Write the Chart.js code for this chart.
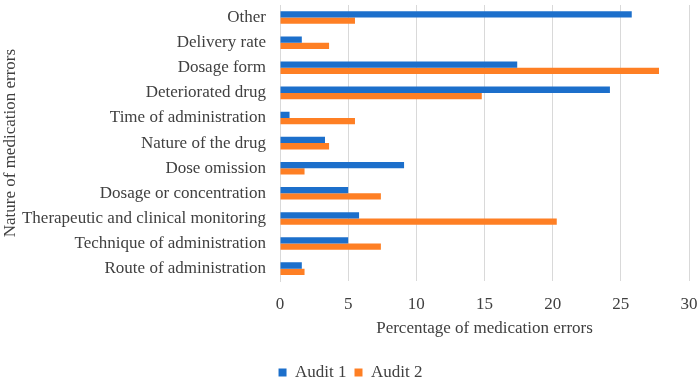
<!DOCTYPE html>
<html>
<head>
<meta charset="utf-8">
<script src="https://cdn.jsdelivr.net/npm/chart.js@4/dist/chart.umd.min.js"></script>
<style>
html,body{margin:0;padding:0;background:#fff;}
#wrap{width:699px;height:381px;position:relative;}
</style>
</head>
<body>
<div id="wrap"><canvas id="c"></canvas></div>
<script>
const categories = [
  "Other",
  "Delivery rate",
  "Dosage form",
  "Deteriorated drug",
  "Time of administration",
  "Nature of the drug",
  "Dose omission",
  "Dosage or concentration",
  "Therapeutic and clinical monitoring",
  "Technique of administration",
  "Route of administration"
];
const audit1 = [25.8, 1.6, 17.4, 24.2, 0.7, 3.3, 9.1, 5.0, 5.8, 5.0, 1.6];
const audit2 = [5.5, 3.6, 27.8, 14.8, 5.5, 3.6, 1.8, 7.4, 20.3, 7.4, 1.8];
const xTicks = [0, 5, 10, 15, 20, 25, 30];

const font = {family: "'Liberation Serif', 'Times New Roman', serif", size: 17};
const txt = '#404040';

new Chart(document.getElementById('c'), {
  type: 'bar',
  data: {
    labels: categories,
    datasets: [
      {label: 'Audit 1', data: audit1, backgroundColor: '#1c6fcb', barPercentage: 1.0, categoryPercentage: 0.5},
      {label: 'Audit 2', data: audit2, backgroundColor: '#fe7f24', barPercentage: 1.0, categoryPercentage: 0.5}
    ]
  },
  options: {
    indexAxis: 'y',
    responsive: true,
    maintainAspectRatio: false,
    animation: false,
    layout: {padding: {top: 0, right: 0, left: 2, bottom: -10}},
    plugins: {
      legend: {
        position: 'bottom',
        labels: {font: font, color: txt, boxWidth: 8, boxHeight: 8, padding: 8}
      },
      tooltip: {enabled: false}
    },
    scales: {
      x: {
        min: 0, max: 30,
        afterBuildTicks: (axis) => { axis.ticks = xTicks.map(v => ({value: v})); },
        afterFit: (s) => { s.paddingRight = 10; s.paddingLeft = 0; },
        grid: {color: '#d9d9d9', lineWidth: 1, drawTicks: false},
        border: {display: false},
        ticks: {font: font, color: txt, padding: 13},
        title: {display: true, text: 'Percentage of medication errors', font: font, color: txt, padding: {top: -9, bottom: 17}}
      },
      y: {
        afterFit: (s) => { s.width = 278; s.paddingTop = 5; s.paddingBottom = 0; },
        grid: {display: false, drawTicks: false},
        border: {display: true, color: '#d9d9d9'},
        ticks: {font: font, color: txt, padding: 14, autoSkip: false},
        title: {display: true, text: 'Nature of medication errors', font: {...font, lineHeight: 1.0}, color: txt, padding: {top: 0, bottom: 0}}
      }
    }
  }
});
</script>
</body>
</html>
